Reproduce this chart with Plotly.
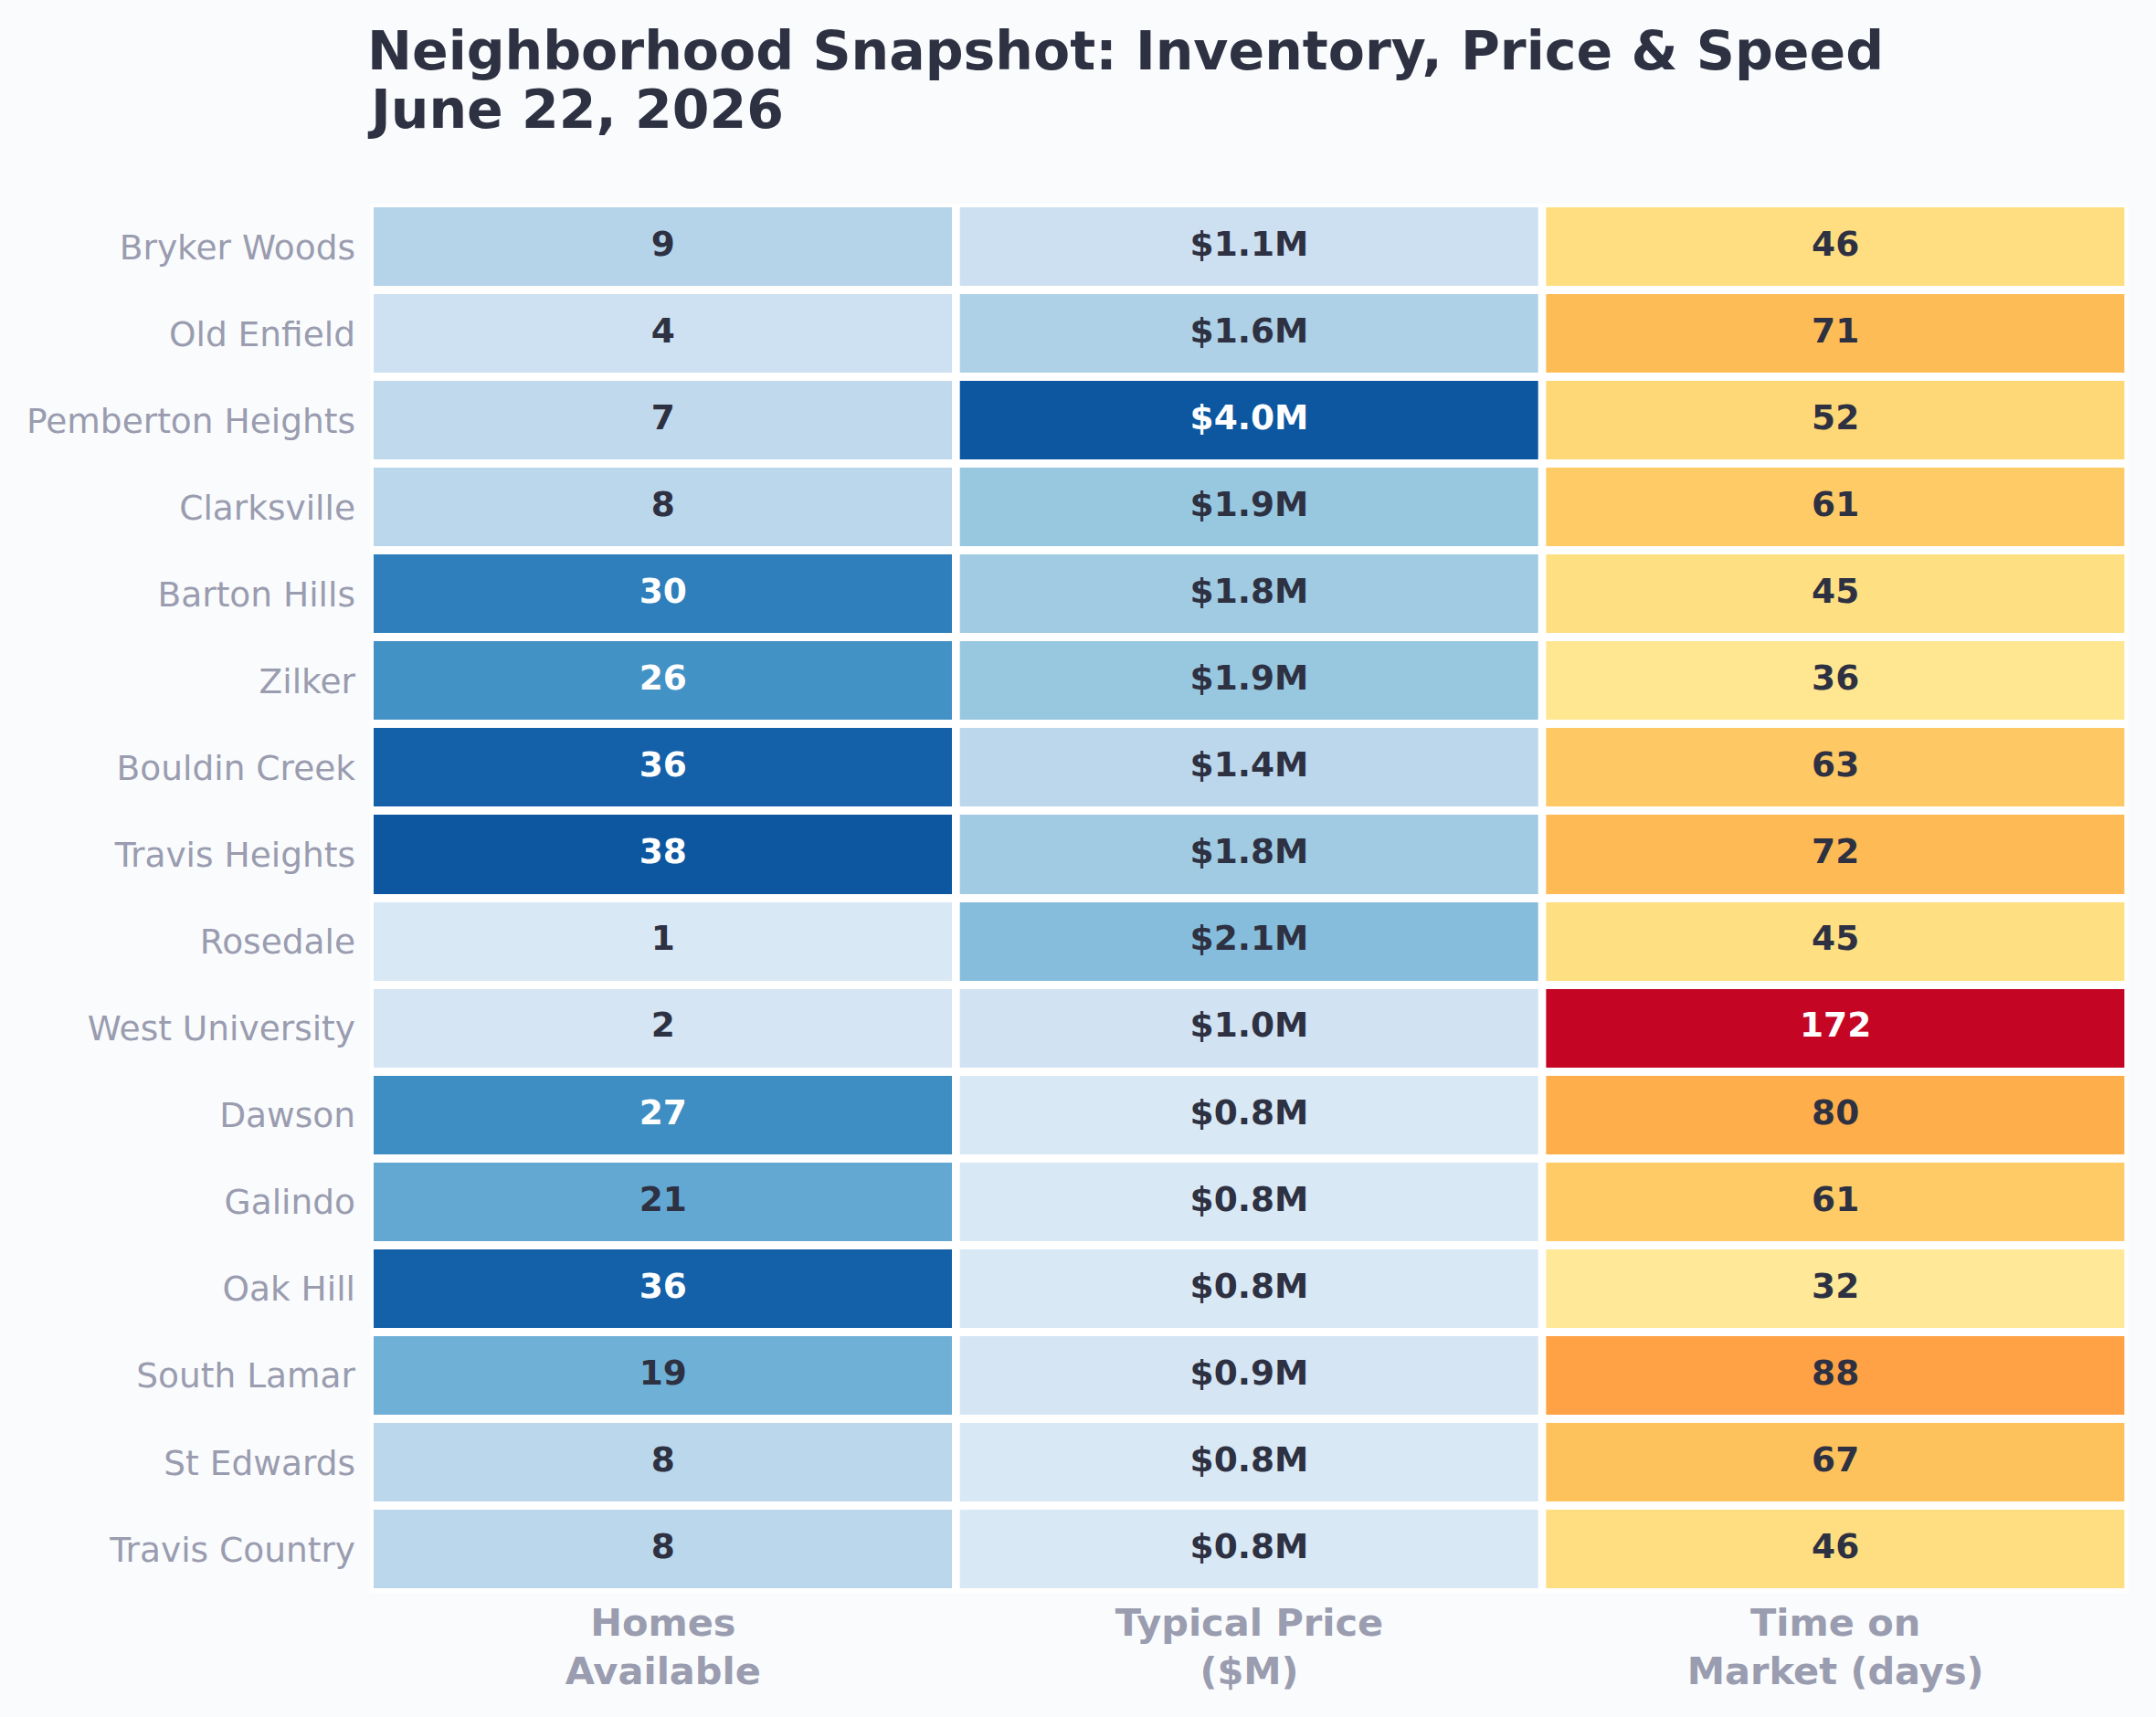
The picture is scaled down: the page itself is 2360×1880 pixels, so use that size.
import plotly.graph_objects as go
from plotly.colors import sample_colorscale, sequential

neighborhoods = ["Bryker Woods", "Old Enfield", "Pemberton Heights", "Clarksville", "Barton Hills",
                 "Zilker", "Bouldin Creek", "Travis Heights", "Rosedale", "West University",
                 "Dawson", "Galindo", "Oak Hill", "South Lamar", "St Edwards", "Travis Country"]
columns = ["Homes<br>Available", "Typical Price<br>($M)", "Time on<br>Market (days)"]
homes = [9, 4, 7, 8, 30, 26, 36, 38, 1, 2, 27, 21, 36, 19, 8, 8]
price = [1.1, 1.6, 4.0, 1.9, 1.8, 1.9, 1.4, 1.8, 2.1, 1.0, 0.8, 0.8, 0.8, 0.9, 0.8, 0.8]
days = [46, 71, 52, 61, 45, 36, 63, 72, 45, 172, 80, 61, 32, 88, 67, 46]
title_lines = ["Neighborhood Snapshot: Inventory, Price & Speed", "June 22, 2026"]

series = [homes, price, days]
labels = [[str(v) for v in homes], ["$%.1fM" % v for v in price], [str(v) for v in days]]
scales = [sequential.Blues, sequential.Blues, sequential.YlOrRd]

DARK = "#2d3142"
GREY = "#9a9caf"
FONT = "DejaVu Sans"

def trimmed(scale, lo=0.15, hi=0.85, n=21):
    pts = [lo + (hi - lo) * i / (n - 1) for i in range(n)]
    cols = sample_colorscale(scale, pts)
    return [[i / (n - 1), c] for i, c in enumerate(cols)]

rows = list(range(len(neighborhoods)))
fig = go.Figure()
for ci, (vals, sc) in enumerate(zip(series, scales)):
    vmin, vmax = min(vals), max(vals)
    fig.add_trace(go.Heatmap(
        x=[ci], y=rows, z=[[v] for v in vals],
        colorscale=trimmed(sc), zmin=vmin, zmax=vmax, showscale=False,
        xgap=9, ygap=9, hoverinfo="skip"))
for ci, (vals, lab) in enumerate(zip(series, labels)):
    vmin, vmax = min(vals), max(vals)
    tcol = ["white" if (v - vmin) / (vmax - vmin) > 0.6 else DARK for v in vals]
    fig.add_trace(go.Scatter(
        x=[ci] * len(vals), y=rows, mode="text", text=lab,
        textfont=dict(family=FONT, size=37.5, color=tcol, weight="bold"),
        hoverinfo="skip", showlegend=False))

for line, yp in zip(title_lines, [1.1098, 1.0677]):
    fig.add_annotation(text=line, xref="paper", yref="paper", x=-0.0028, y=yp,
                       xanchor="left", yanchor="middle", showarrow=False,
                       font=dict(family=FONT, size=58.5, color=DARK, weight="bold"))

fig.update_layout(
    width=2360, height=1880,
    margin=dict(l=405, r=30, t=223, b=136),
    paper_bgcolor="#f9fbfd", plot_bgcolor="white",
    showlegend=False,
)
fig.update_xaxes(range=[-0.5, 2.5], tickmode="array", tickvals=[0, 1, 2], ticktext=columns,
                 showgrid=False, zeroline=False, showline=False, ticks="",
                 ticklabelstandoff=4,
                 tickfont=dict(family=FONT, size=41.5, color=GREY, weight="bold"))
fig.update_yaxes(range=[len(rows) - 0.5, -0.5], tickmode="array", tickvals=rows, ticktext=neighborhoods,
                 showgrid=False, zeroline=False, showline=False, ticks="",
                 ticklabelstandoff=15,
                 tickfont=dict(family=FONT, size=37.5, color=GREY))
fig.write_html("out.html")
